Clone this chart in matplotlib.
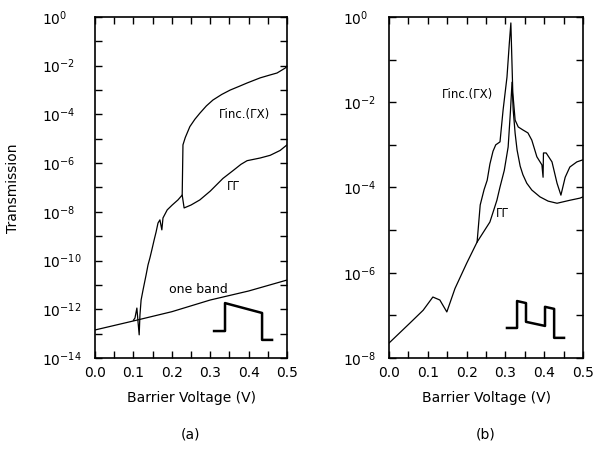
import matplotlib
matplotlib.use("Agg")
import matplotlib.pyplot as plt
import numpy as np
from matplotlib.ticker import FixedLocator, FuncFormatter

# ---- panel (a): values as log10(transmission) ----
a_oneband_v = [0.0, 0.1, 0.2, 0.3, 0.4, 0.5]
a_oneband_t = [-12.85, -12.48, -12.1, -11.62, -11.25, -10.8]

a_gg_v = [0.100, 0.104, 0.109, 0.112, 0.115, 0.117, 0.120, 0.125, 0.133, 0.138,
          0.143, 0.148, 0.154, 0.159, 0.164, 0.169, 0.174, 0.177, 0.188, 0.201,
          0.216, 0.227, 0.232, 0.250, 0.273, 0.300, 0.333, 0.360, 0.380, 0.396,
          0.430, 0.456, 0.482, 0.5]
a_gg_t = [-12.45, -12.36, -11.95, -12.52, -13.05, -12.23, -11.62, -11.21, -10.59, -10.18,
          -9.89, -9.56, -9.15, -8.83, -8.46, -8.33, -8.74, -8.25, -7.92, -7.72,
          -7.51, -7.31, -7.84, -7.72, -7.51, -7.15, -6.63, -6.3, -6.05, -5.9,
          -5.79, -5.68, -5.48, -5.25]

a_ginc_v = [0.227, 0.229, 0.235, 0.247, 0.260, 0.273, 0.290, 0.307, 0.330, 0.352,
            0.375, 0.396, 0.430, 0.456, 0.474, 0.495, 0.5]
a_ginc_t = [-7.31, -5.25, -4.95, -4.5, -4.2, -3.95, -3.65, -3.41, -3.18, -3.0,
            -2.85, -2.71, -2.5, -2.38, -2.3, -2.1, -2.02]

# ---- panel (b) ----
b_gg_v = [0.0, 0.054, 0.088, 0.113, 0.131, 0.149, 0.17, 0.2, 0.227, 0.26,
          0.278, 0.286, 0.297, 0.307, 0.313, 0.317, 0.320, 0.325, 0.330, 0.338,
          0.345, 0.355, 0.368, 0.389, 0.410, 0.433, 0.466, 0.492, 0.5]
b_gg_t = [-7.65, -7.18, -6.88, -6.57, -6.64, -6.92, -6.37, -5.78, -5.28, -4.81,
          -4.30, -3.99, -3.6, -3.05, -2.2, -1.53, -2.18, -2.73, -3.12, -3.5,
          -3.7, -3.9, -4.06, -4.22, -4.32, -4.37, -4.30, -4.25, -4.22]

b_ginc_v = [0.227, 0.235, 0.245, 0.253, 0.260, 0.268, 0.275, 0.286, 0.294, 0.304,
            0.310, 0.314, 0.319, 0.325, 0.333, 0.345, 0.358, 0.368, 0.381, 0.394,
            0.397, 0.398, 0.405, 0.420, 0.433, 0.443, 0.454, 0.466, 0.484, 0.5]
b_ginc_t = [-5.28, -4.41, -4.05, -3.83, -3.45, -3.15, -3.0, -2.93, -2.18, -1.41,
            -0.62, -0.14, -1.78, -2.42, -2.58, -2.65, -2.72, -2.89, -3.28, -3.47,
            -3.76, -3.19, -3.19, -3.40, -3.90, -4.18, -3.76, -3.52, -3.40, -3.35]

# schematic barrier insets (axes fraction)
inset_a_x = [0.620, 0.677, 0.677, 0.870, 0.870, 0.922]
inset_a_y = [0.079, 0.079, 0.161, 0.132, 0.053, 0.053]
inset_b_x = [0.608, 0.660, 0.660, 0.706, 0.706, 0.804, 0.804, 0.851, 0.851, 0.902]
inset_b_y = [0.088, 0.088, 0.167, 0.161, 0.106, 0.094, 0.150, 0.144, 0.059, 0.059]

plt.rcParams['font.family'] = 'DejaVu Sans'
plt.rcParams['font.size'] = 10

fig = plt.figure(figsize=(5.95, 4.54), dpi=100)
ax1 = fig.add_axes([0.1597, 0.2115, 0.3227, 0.7511])
ax2 = fig.add_axes([0.6538, 0.2115, 0.3261, 0.7511])

lw = 0.9


def pow10(v):
    return 10.0 ** np.asarray(v)


ax1.plot(a_oneband_v, pow10(a_oneband_t), color='black', lw=lw)
ax1.plot(a_gg_v, pow10(a_gg_t), color='black', lw=lw)
ax1.plot(a_ginc_v, pow10(a_ginc_t), color='black', lw=lw)
ax1.plot(inset_a_x, inset_a_y, color='black', lw=1.8, transform=ax1.transAxes)

ax2.plot(b_gg_v, pow10(b_gg_t), color='black', lw=lw)
ax2.plot(b_ginc_v, pow10(b_ginc_t), color='black', lw=lw)
ax2.plot(inset_b_x, inset_b_y, color='black', lw=1.8, transform=ax2.transAxes)

ax1.text(0.39, pow10(-4.0), 'Γinc.(ΓX)', fontsize=8.5, ha='center', va='center')
ax1.text(0.36, pow10(-6.95), 'ΓΓ', fontsize=8.5, ha='center', va='center')
ax1.text(0.27, pow10(-11.2), 'one band', fontsize=9, ha='center', va='center')
ax2.text(0.203, pow10(-1.83), 'Γinc.(ΓX)', fontsize=8.5, ha='center', va='center')
ax2.text(0.293, pow10(-4.6), 'ΓΓ', fontsize=8.5, ha='center', va='center')


def fmt(y, pos):
    e = int(round(np.log10(y)))
    return r'$10^{%d}$' % e if e % 2 == 0 else ''


for ax, lo, pad in [(ax1, -14, 38), (ax2, -8, 33)]:
    ax.set_yscale('log')
    ax.set_xlim(0, 0.5)
    ax.set_ylim(10.0 ** lo, 1)
    ax.yaxis.set_major_locator(FixedLocator([10.0 ** e for e in range(lo, 1)]))
    ax.yaxis.set_minor_locator(FixedLocator([]))
    ax.yaxis.set_major_formatter(FuncFormatter(fmt))
    ax.set_xticks(np.arange(0, 0.51, 0.1))
    ax.set_xticks(np.arange(0.05, 0.5, 0.1), minor=True)
    ax.set_xticklabels(['0.0', '0.1', '0.2', '0.3', '0.4', '0.5'])
    ax.tick_params(axis='both', which='both', direction='in', top=True, right=True,
                   length=5, width=1.0)
    ax.tick_params(axis='y', pad=pad)
    ax.tick_params(axis='x', pad=6)
    for lab in ax.get_yticklabels():
        lab.set_horizontalalignment('left')
    for s in ax.spines.values():
        s.set_linewidth(1.2)
    ax.set_xlabel('Barrier Voltage (V)', labelpad=8)

fig.text(0.022, 0.585, 'Transmission', rotation=90, ha='center', va='center')
fig.text(0.321, 0.042, '(a)', ha='center', va='center')
fig.text(0.817, 0.042, '(b)', ha='center', va='center')

fig.savefig('out.png', dpi=100)
